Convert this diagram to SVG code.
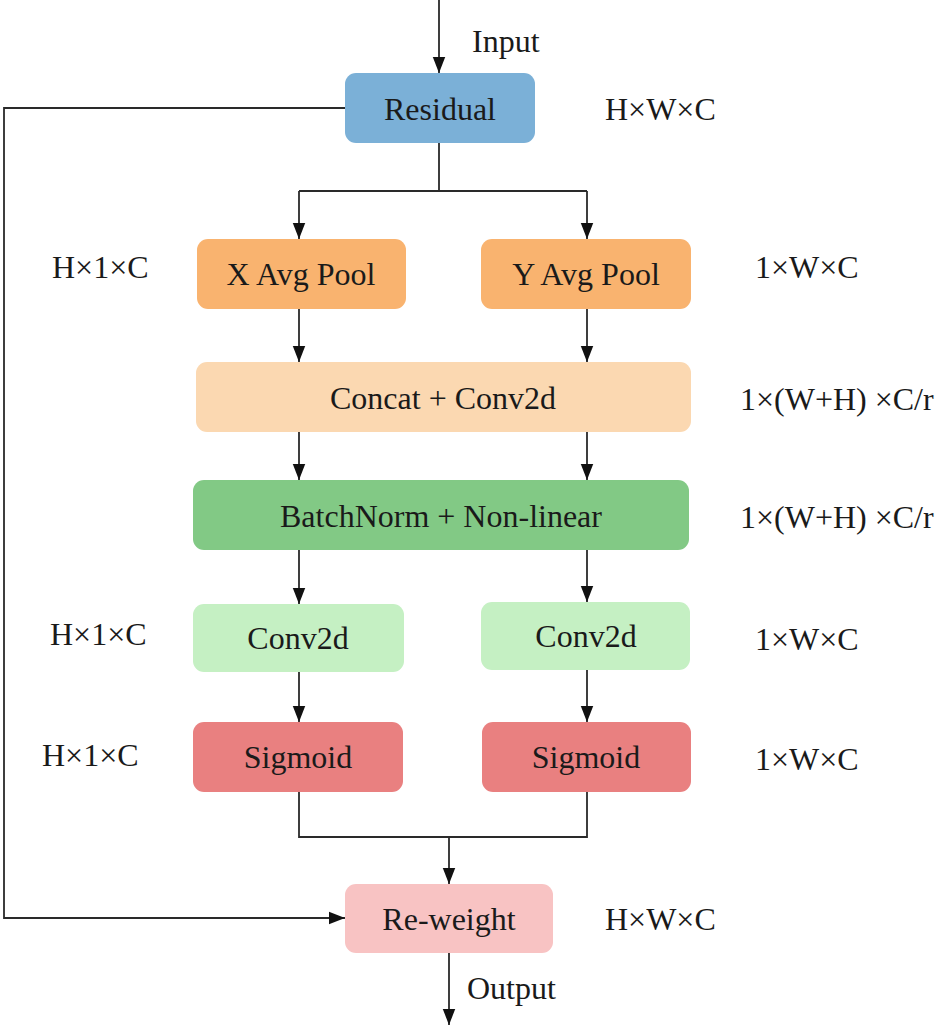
<svg xmlns="http://www.w3.org/2000/svg" width="944" height="1028" viewBox="0 0 944 1028">
<style>
text{font-family:'Liberation Serif','Times New Roman','DejaVu Serif',serif;font-size:32px;fill:#1a1a1a}
.c{text-anchor:middle}
.ln{fill:none;stroke:#2a2a2a;stroke-width:1.8}
</style>
<defs>
<marker id="ah" markerUnits="userSpaceOnUse" markerWidth="16" markerHeight="18" viewBox="0 0 18 16" refX="18" refY="8" orient="auto">
<path d="M0,1 L18,8 L0,15 Z" fill="#111"/>
</marker>
</defs>
<rect width="944" height="1028" fill="#fff"/>
<g id="connectors">
<path class="ln" d="M439,0 V73" marker-end="url(#ah)"/>
<path class="ln" d="M439,143 V191 M299,191 H587"/>
<path class="ln" d="M299,191 V239" marker-end="url(#ah)"/>
<path class="ln" d="M587,191 V239" marker-end="url(#ah)"/>
<path class="ln" d="M299,309 V362" marker-end="url(#ah)"/>
<path class="ln" d="M587,309 V362" marker-end="url(#ah)"/>
<path class="ln" d="M299,432 V480" marker-end="url(#ah)"/>
<path class="ln" d="M587,432 V480" marker-end="url(#ah)"/>
<path class="ln" d="M299,550 V604" marker-end="url(#ah)"/>
<path class="ln" d="M587,550 V602" marker-end="url(#ah)"/>
<path class="ln" d="M299,672 V722" marker-end="url(#ah)"/>
<path class="ln" d="M587,670 V722" marker-end="url(#ah)"/>
<path class="ln" d="M299,792 V837 H587 V792"/>
<path class="ln" d="M449,837 V884" marker-end="url(#ah)"/>
<path class="ln" d="M345,108 H4 V918 H345" marker-end="url(#ah)"/>
<path class="ln" d="M449,953 V1025" marker-end="url(#ah)"/>
</g>
<text x="472" y="52">Input</text>
<text x="467" y="999">Output</text>
<g id="residual">
<rect x="345" y="73" width="190" height="70" rx="11" fill="#7BB0D7"/>
<text class="c" x="440" y="120">Residual</text>
</g>
<g id="xpool">
<rect x="197" y="239" width="209" height="70" rx="11" fill="#F9B36F"/>
<text class="c" x="301" y="285">X Avg Pool</text>
</g>
<g id="ypool">
<rect x="481" y="239" width="210" height="70" rx="11" fill="#F9B36F"/>
<text class="c" x="586" y="285">Y Avg Pool</text>
</g>
<g id="concat">
<rect x="196" y="362" width="495" height="70" rx="11" fill="#FBD8B1"/>
<text class="c" x="443" y="409">Concat + Conv2d</text>
</g>
<g id="batchnorm">
<rect x="193" y="480" width="496" height="70" rx="11" fill="#82C985"/>
<text class="c" x="441" y="527">BatchNorm + Non-linear</text>
</g>
<g id="conv-left">
<rect x="193" y="604" width="211" height="68" rx="11" fill="#C5F0C3"/>
<text class="c" x="298" y="649">Conv2d</text>
</g>
<g id="conv-right">
<rect x="481" y="602" width="209" height="68" rx="11" fill="#C5F0C3"/>
<text class="c" x="586" y="647">Conv2d</text>
</g>
<g id="sigmoid-left">
<rect x="193" y="722" width="210" height="70" rx="11" fill="#E98080"/>
<text class="c" x="298" y="768">Sigmoid</text>
</g>
<g id="sigmoid-right">
<rect x="482" y="722" width="209" height="70" rx="11" fill="#E98080"/>
<text class="c" x="586" y="768">Sigmoid</text>
</g>
<g id="reweight">
<rect x="345" y="884" width="208" height="69" rx="11" fill="#F8C3C3"/>
<text class="c" x="449" y="930">Re-weight</text>
</g>
<g id="labels">
<text x="605" y="120">H×W×C</text>
<text x="52" y="278">H×1×C</text>
<text x="755" y="278">1×W×C</text>
<text x="740" y="410">1×(W+H) ×C/r</text>
<text x="740" y="528">1×(W+H) ×C/r</text>
<text x="50" y="645">H×1×C</text>
<text x="755" y="650">1×W×C</text>
<text x="42" y="766">H×1×C</text>
<text x="755" y="770">1×W×C</text>
<text x="605" y="930">H×W×C</text>
</g>
</svg>
